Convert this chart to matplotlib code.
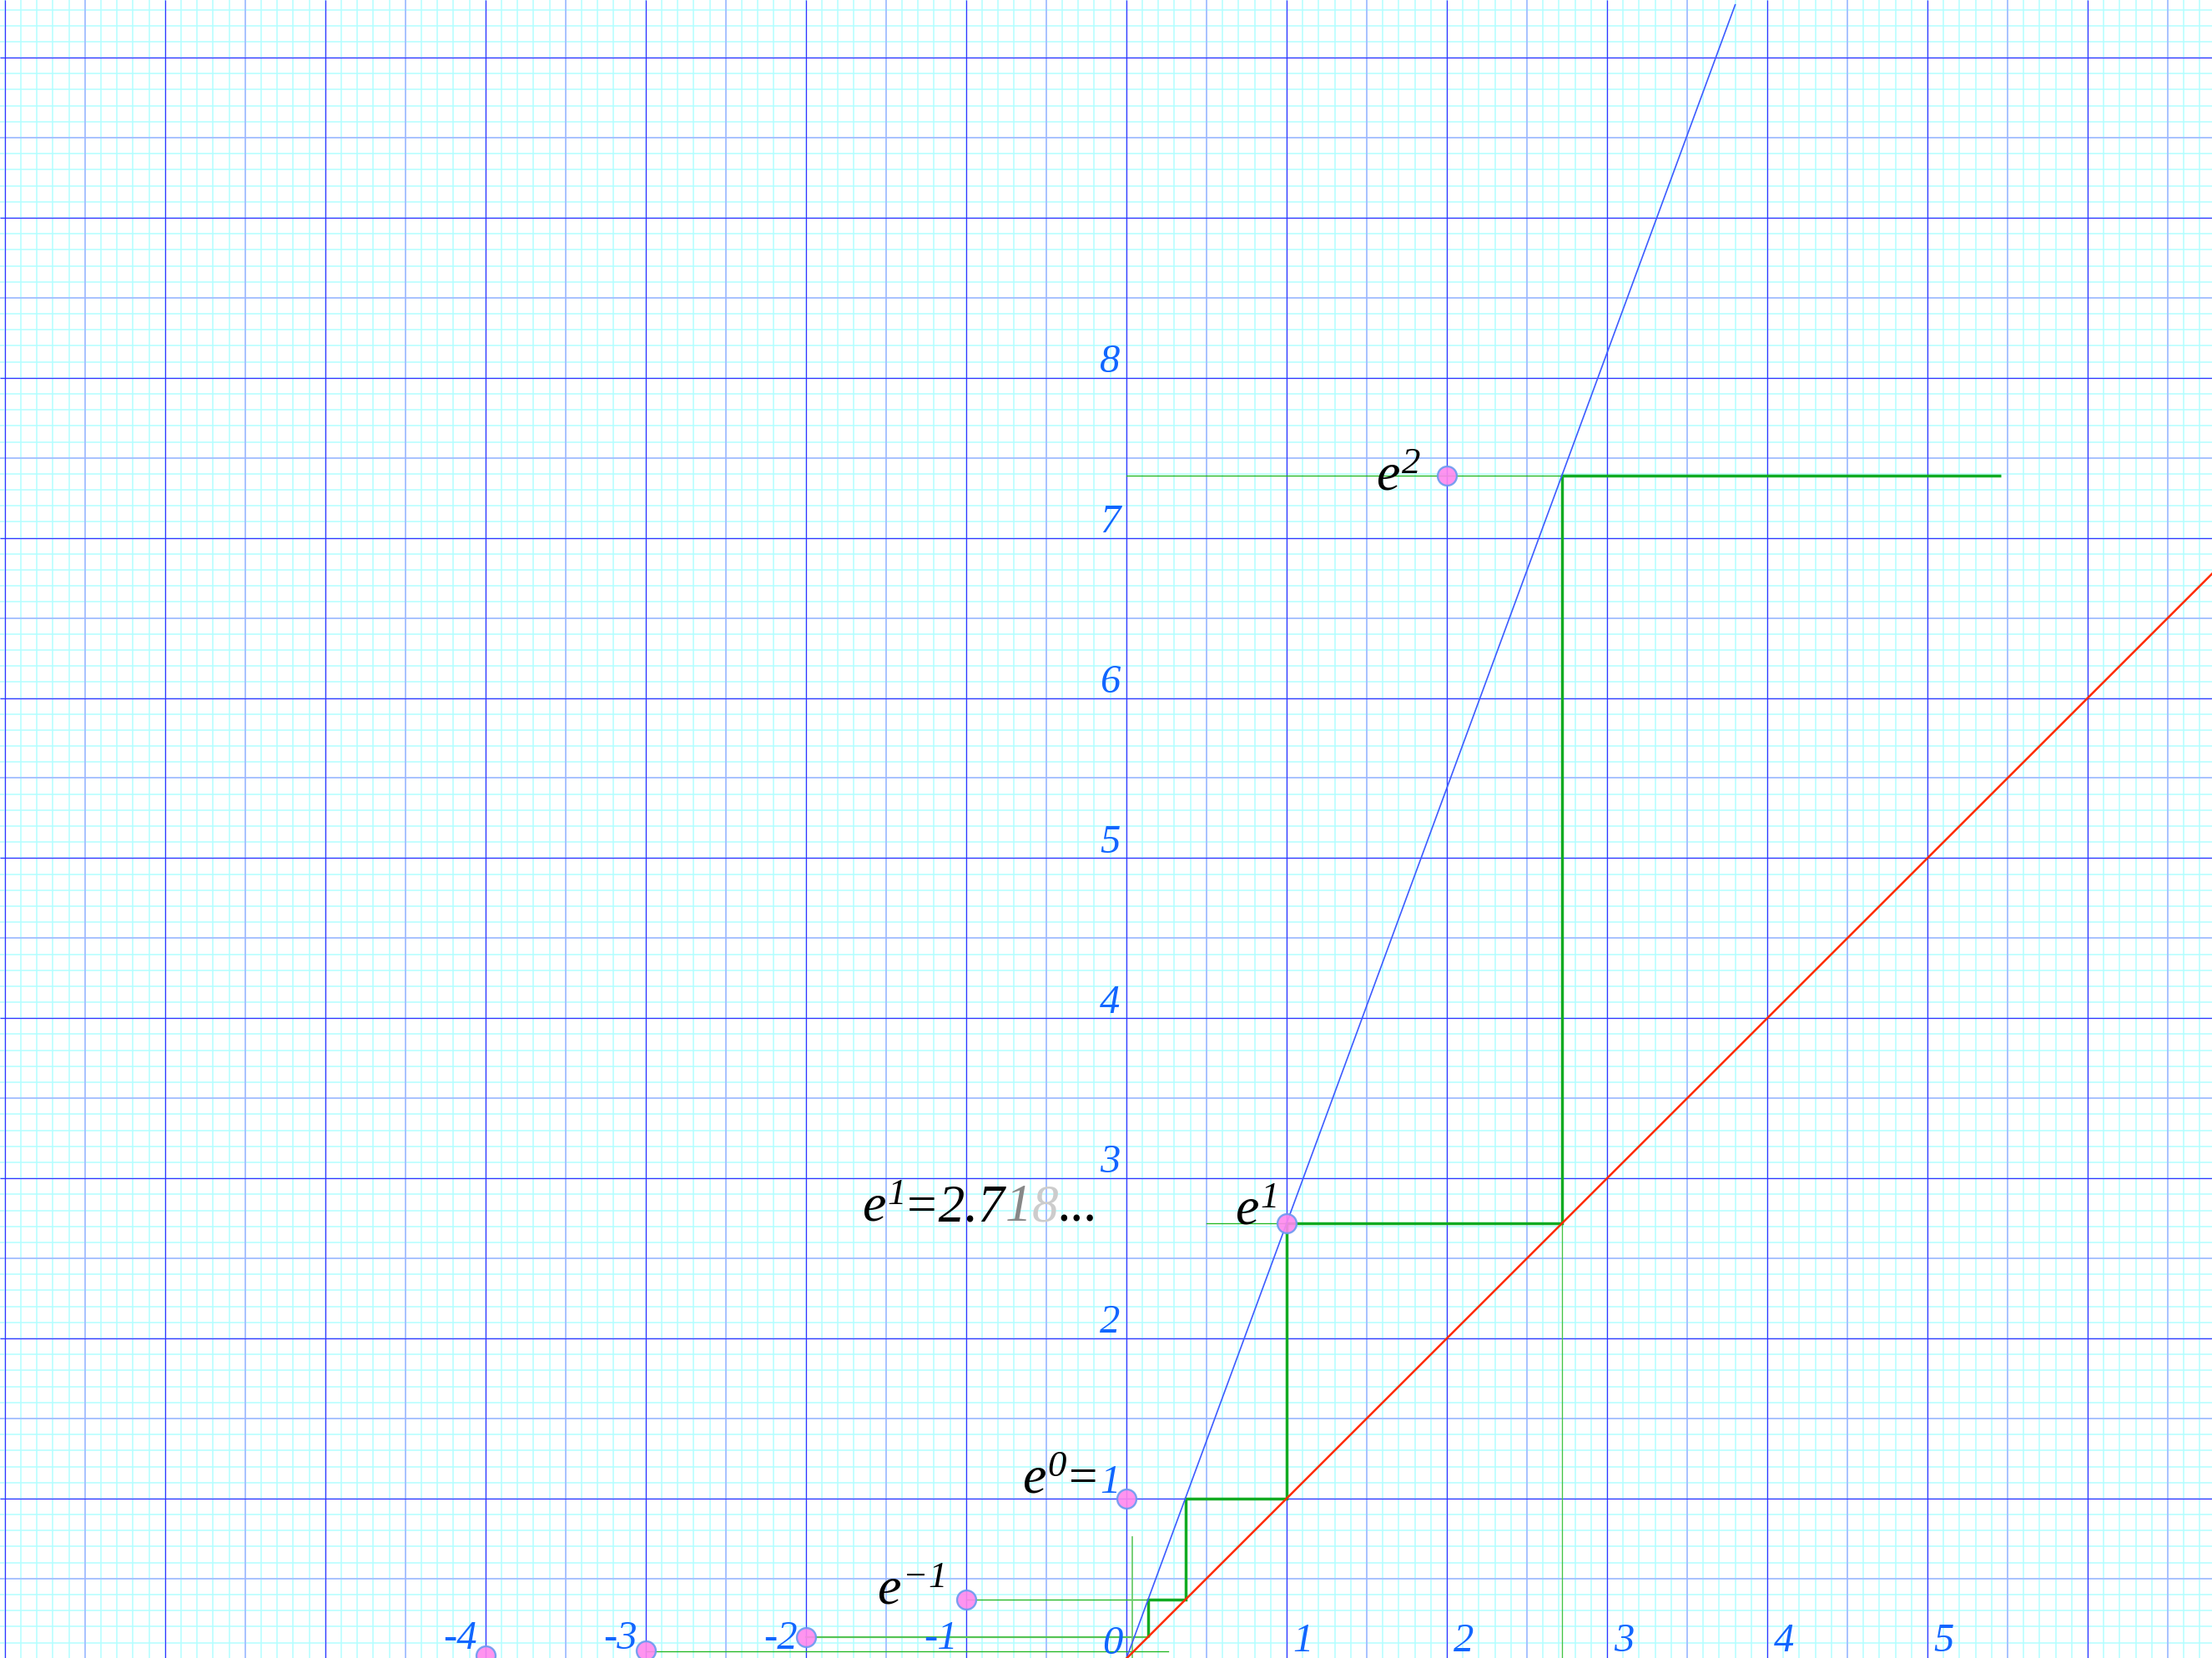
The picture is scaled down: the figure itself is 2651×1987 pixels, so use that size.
import numpy as np
import matplotlib
matplotlib.use("Agg")
import matplotlib.pyplot as plt

plt.rcParams['mathtext.fontset'] = 'custom'
plt.rcParams['mathtext.it'] = 'Liberation Serif:italic'
plt.rcParams['mathtext.rm'] = 'Liberation Serif:italic'
plt.rcParams['mathtext.default'] = 'it'

# ---- data ----
pt_n = [-4, -3, -2, -1, 0, 1, 2]
pt_val = [0.018, 0.050, 0.135, 0.368, 1.0, 2.718, 7.389]

blue_x = [0.0, 3.80]
blue_y = [0.0, 10.33]
red_x = [0.0, 6.80]
red_y = [0.0, 6.80]

stair_x = [0.135, 0.135, 0.368, 0.368, 1.0, 1.0, 2.718, 2.718, 5.46]
stair_y = [0.135, 0.368, 0.368, 1.0, 1.0, 2.718, 2.718, 7.389, 7.389]

# thin guide lines: (x0, x1, y) horizontals and (x, y0, y1) verticals
thin_h = [(0.0, 2.718, 7.389), (0.50, 1.0, 2.718), (-1.0, 0.135, 0.368),
          (-3.0, 0.26, 0.047)]
light_h = [(-2.0, 0.135, 0.135)]
thin_v = [(2.718, 0.0, 2.718)]
light_v = [(0.037, 0.0, 0.76)]

xtick_pos = [1, 2, 3, 4, 5]
xtick_neg = [-1, -2, -3, -4]
ytick_vals = [1, 2, 3, 4, 5, 6, 7, 8]

XMIN, XMAX = -7.03, 6.776
YMIN, YMAX = 0.004, 10.36

fig = plt.figure(figsize=(26.51, 19.87), dpi=100)
ax = fig.add_axes([0, 0, 1, 1])
ax.set_xlim(XMIN, XMAX)
ax.set_ylim(YMIN, YMAX)
ax.axis('off')

# ---- graph paper ----
minor = np.arange(-7.0, 7.01, 0.1)
minor_y = np.arange(0.0, 10.51, 0.1)
ax.vlines(minor, YMIN, YMAX, colors='#b3feff', lw=1.1, zorder=1)
ax.hlines(minor_y, XMIN, XMAX, colors='#b3feff', lw=1.1, zorder=1)
half = np.arange(-6.5, 7.0, 1.0)
half_y = np.arange(0.5, 10.6, 1.0)
ax.vlines(half, YMIN, YMAX, colors='#a2b2ff', lw=1.1, zorder=2)
ax.hlines(half_y, XMIN, XMAX, colors='#a2b2ff', lw=1.1, zorder=2)
major = np.arange(-7, 7, 1)
major_y = np.arange(0, 11, 1)
ax.vlines(major, YMIN, YMAX, colors='#3a2eff', lw=0.9, zorder=3)
ax.hlines(major_y, XMIN, XMAX, colors='#3a2eff', lw=0.9, zorder=3)

# ---- green guides ----
for x0, x1, y in thin_h:
    ax.plot([x0, x1], [y, y], color='#22b822', lw=0.95, zorder=4)
for x0, x1, y in light_h:
    ax.plot([x0, x1], [y, y], color='#55c455', lw=1.6, zorder=4)
for x, y0, y1 in thin_v:
    ax.plot([x, x], [y0, y1], color='#44c444', lw=0.95, zorder=4)
for x, y0, y1 in light_v:
    ax.plot([x, x], [y0, y1], color='#6ccc6c', lw=1.3, zorder=4)

ax.plot(stair_x, stair_y, color='#12ab22', lw=2.5, zorder=5,
        solid_joinstyle='miter', solid_capstyle='butt')

# ---- curves ----
ax.plot(blue_x, blue_y, color='#3d5cff', lw=1.2, zorder=6)
ax.plot(red_x, red_y, color='#ff2a00', lw=1.8, zorder=6)

# ---- points ----
ax.plot(pt_n, pt_val, linestyle='none', marker='o', markersize=16.5,
        markerfacecolor='#ff88ee', markeredgecolor='#6a9af0',
        markeredgewidth=1.7, alpha=0.9, zorder=7)

# ---- tick labels ----
tick_kw = dict(color='#1166ff', fontsize=35, family='Liberation Serif',
               style='italic', va='baseline', zorder=8)
for v in ytick_vals:
    ax.text(-0.04, v + 0.035, str(v), ha='right', **tick_kw)
for v in xtick_pos:
    ax.text(v + 0.04, 0.045, str(v), ha='left', **tick_kw)
for v in xtick_neg:
    ax.text(v - 0.05, 0.06, '-' + str(-v), ha='right', **tick_kw)
ax.text(-0.025, 0.03, '0', ha='right', **tick_kw)

# ---- e labels ----
lab_kw = dict(color='black', fontsize=46, va='baseline', zorder=8)
ax.text(1.84, 7.30, r'$e^{2}$', ha='right', **lab_kw)
ax.text(0.68, 2.71, r'$e^{1}$', ha='left', **lab_kw)
ax.text(-1.135, 0.34, r'$e^{-1}$', ha='right', **lab_kw)
ax.text(-0.65, 1.035, r'$e^{0}$', ha='left', **lab_kw)
ax.text(-0.18, 1.035, '=', ha='right', color='black', fontsize=44,
        family='Liberation Serif', va='baseline', zorder=8)

# e^1 = 2.718...
ax.text(-1.65, 2.735, r'$e^{1}$', ha='left', **lab_kw)
num_kw = dict(fontsize=45.5, family='Liberation Serif', style='italic',
              zorder=8)
t0 = ax.text(-1.39, 2.735, '=2.7', color='black', va='baseline',
             ha='left', **num_kw)
t1 = ax.annotate('1', xy=(1, 0), xycoords=t0, va='bottom', ha='left',
                 color='#888888', **num_kw)
t2 = ax.annotate('8', xy=(1, 0), xycoords=t1, va='bottom', ha='left',
                 color='#cccccc', **num_kw)
t3 = ax.annotate('...', xy=(1, 0), xycoords=t2, va='bottom', ha='left',
                 color='black', **num_kw)

fig.savefig('out.png', dpi=100)
